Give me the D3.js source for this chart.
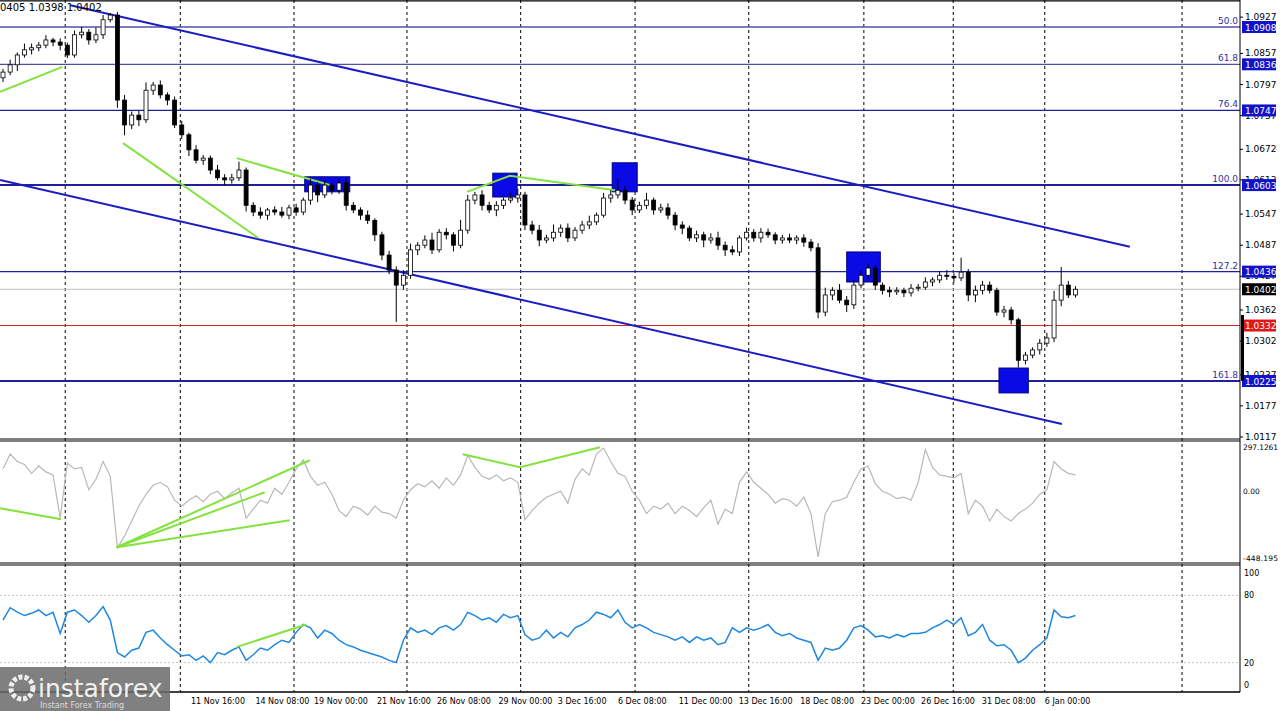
<!DOCTYPE html>
<html>
<head>
<meta charset="utf-8">
<script src="https://cdn.jsdelivr.net/npm/d3@7"></script>
<style>
  body { margin: 0; background: #fff; }
  text { font-family: Tahoma, "DejaVu Sans", sans-serif; }
</style>
</head>
<body>
<svg id="chart" width="1280" height="711"></svg>
<script>
// EURUSD H4 closes (first open 1.0810)
var closes = [
  1.0821, 1.0835, 1.0854, 1.0864, 1.0868, 1.0873, 1.0883, 1.0879, 1.0873, 1.0854,
  1.0893, 1.0898, 1.0883, 1.0893, 1.0922, 1.0931, 1.0767, 1.0719, 1.0738, 1.0729,
  1.0786, 1.0796, 1.0777, 1.0767, 1.0719, 1.0700, 1.0671, 1.0651, 1.0655, 1.0632,
  1.0617, 1.0613, 1.0617, 1.0632, 1.0564, 1.0551, 1.0545, 1.0555, 1.0551, 1.0545,
  1.0559, 1.0551, 1.0574, 1.0603, 1.0584, 1.0603, 1.0593, 1.0607, 1.0564, 1.0555,
  1.0545, 1.0535, 1.0507, 1.0468, 1.0439, 1.0410, 1.0429, 1.0478, 1.0487, 1.0497,
  1.0478, 1.0512, 1.0507, 1.0487, 1.0516, 1.0574, 1.0584, 1.0564, 1.0555, 1.0564,
  1.0574, 1.0578, 1.0584, 1.0526, 1.0516, 1.0497, 1.0501, 1.0512, 1.0520, 1.0501,
  1.0516, 1.0526, 1.0532, 1.0545, 1.0578, 1.0584, 1.0593, 1.0574, 1.0555, 1.0564,
  1.0574, 1.0555, 1.0559, 1.0545, 1.0526, 1.0520, 1.0501, 1.0507, 1.0497, 1.0501,
  1.0487, 1.0478, 1.0474, 1.0501, 1.0512, 1.0501, 1.0512, 1.0507, 1.0497, 1.0501,
  1.0497, 1.0501, 1.0493, 1.0482, 1.0358, 1.0391, 1.0400, 1.0381, 1.0372, 1.0410,
  1.0429, 1.0443, 1.0410, 1.0400, 1.0397, 1.0400, 1.0395, 1.0404, 1.0406, 1.0416,
  1.0420, 1.0429, 1.0427, 1.0424, 1.0435, 1.0391, 1.0400, 1.0410, 1.0400, 1.0358,
  1.0362, 1.0343, 1.0265, 1.0275, 1.0285, 1.0298, 1.0308, 1.0381, 1.0410, 1.0391,
  1.0402
];
var firstOpen = 1.0810;
// wick lengths in pips
var wickUp = [
  6, 10, 5, 12, 8, 6, 9, 4, 7, 5,  8, 10, 6, 14, 9, 4, 6, 10, 7, 8,
  15, 6, 9, 5, 7, 8, 4, 9, 6, 5,  10, 7, 8, 16, 5, 6, 9, 4, 7, 10,
  6, 8, 5, 12, 6, 9, 5, 7, 8, 6,  5, 9, 4, 6, 8, 7, 10, 12, 6, 9,
  14, 6, 8, 5, 20, 10, 6, 9, 7, 8,  5, 9, 12, 6, 8, 10, 6, 15, 7, 9,
  6, 8, 12, 5, 10, 9, 22, 8, 6, 7,  14, 5, 8, 9, 6, 7, 5, 8, 6, 9,
  12, 7, 8, 5, 9, 6, 8, 7, 5, 6,  8, 5, 7, 6, 9, 14, 6, 12, 8, 10,
  9, 8, 6, 5, 7, 6, 5, 8, 6, 9,  5, 8, 10, 6, 28, 6, 9, 8, 7, 5,
  8, 6, 4, 6, 5, 8, 10, 18, 35, 8,  6
];
var wickDn = [
  8, 6, 12, 5, 9, 7, 6, 8, 10, 6,  5, 7, 9, 6, 8, 5, 15, 20, 8, 12,
  6, 9, 7, 10, 6, 8, 12, 6, 9, 8,  5, 10, 7, 6, 12, 8, 7, 9, 6, 5,
  8, 7, 6, 9, 14, 6, 8, 7, 10, 6,  9, 7, 12, 10, 8, 71, 9, 7, 10, 6,
  8, 5, 9, 12, 6, 7, 8, 10, 6, 12,  7, 6, 9, 10, 8, 12, 6, 7, 9, 8,
  6, 7, 8, 6, 5, 9, 7, 8, 10, 6,  7, 9, 6, 8, 10, 12, 6, 8, 14, 7,
  9, 12, 6, 8, 5, 7, 9, 6, 8, 7,  6, 8, 9, 7, 12, 8, 10, 6, 14, 8,
  6, 7, 9, 8, 10, 6, 8, 7, 6, 5,  8, 6, 7, 9, 6, 12, 14, 8, 6, 7,
  10, 9, 14, 8, 6, 9, 7, 8, 12, 6,  5
];
var cci = [
  150, 250, 200, 180, 120, 170, 130, 110, -180, 190, 150, 160, 10, 80, 200, 100, -380, -300, -200, -100,
  -20, 40, 60, 30, -60, -100, -60, -30, -70, -20, 0, -50, -10, 20, -180, -120, -60, -80, 20, -20,
  60, 150, 210, 100, 40, 60, -20, -130, -170, -100, -120, -160, -100, -140, -150, -180, -60, 10, 50, 30,
  70, 20, 90, 40, 110, 240, 160, 100, 80, 110, 70, 90, 60, -190, -130, -80, -40, -20, 0, -80,
  80, 150, 110, 250, 290, 200, 120, 100, 0, -60, -150, -100, -120, -80, -150, -100, -130, -170, -110, -60,
  -220, -120, -150, 60, 130, 60, 20, -20, -80, -50, -60, -100, -40, -150, -440, -150, -70, -60, -40, 60,
  150, 170, 50, 0, -20, -50, -40, -60, 60, 280, 160, 110, 100, 90, 120, -150, -60, -100, -200, -120,
  -170, -200, -150, -120, -80, -20, 10, 200, 150, 120, 110
];
var rsi = [
  58, 69, 65, 62, 64, 67, 62, 65, 46, 65, 67, 62, 56, 62, 70, 58, 29, 25, 31, 33,
  47, 49, 42, 36, 31, 26, 27, 22, 26, 20, 29, 27, 31, 34, 22, 27, 33, 31, 36, 40,
  38, 47, 54, 51, 42, 49, 46, 40, 36, 34, 31, 29, 27, 25, 22, 20, 40, 51, 47, 49,
  45, 51, 53, 49, 54, 65, 62, 58, 60, 56, 63, 60, 62, 45, 40, 42, 49, 42, 47, 43,
  51, 54, 58, 65, 63, 60, 67, 56, 51, 54, 51, 47, 45, 43, 40, 43, 38, 43, 40, 42,
  36, 38, 51, 47, 51, 49, 51, 54, 47, 44, 46, 42, 40, 38, 22, 33, 31, 33, 40, 51,
  53, 49, 43, 44, 42, 45, 43, 46, 46, 47, 51, 54, 58, 54, 60, 44, 47, 54, 40, 35,
  36, 31, 20, 24, 31, 36, 42, 67, 61, 60, 62
];

var priceTicks = [1.0927, 1.0857, 1.0797, 1.0737, 1.0672, 1.0613, 1.0547, 1.0487, 1.0427, 1.0362, 1.0302, 1.0237, 1.0177, 1.0117];
var fiboLevels = [50.0, 61.8, 76.4, 100.0, 127.2, 161.8];
var fiboPrices = [1.0908, 1.0836, 1.0747, 1.0603, 1.0436, 1.0225];
var bidPrice = 1.0402;
var alertPrice = 1.0332;
var headerText = '0405 1.0398 1.0402';

// vertical grid lines and time labels (candle index)
var gridIdx = [8.7, 24.8, 40.7, 56.5, 72.4, 88.4, 104.3, 120.4, 132.9, 145.7, 164.9];
var timeLabels = ['11 Nov 16:00', '14 Nov 08:00', '19 Nov 00:00', '21 Nov 16:00', '26 Nov 08:00', '29 Nov 00:00', '3 Dec 16:00', '6 Dec 08:00', '11 Dec 00:00', '13 Dec 16:00', '18 Dec 08:00', '23 Dec 00:00', '26 Dec 16:00', '31 Dec 08:00', '6 Jan 00:00'];
var timeLabelIdx = [26.3, 35.3, 43.5, 52.3, 60.7, 69.3, 77.6, 86.0, 94.5, 102.9, 111.5, 120.0, 128.4, 136.9, 145.7];

// annotations: [idx, value] pairs
var channelUpper = [[9.4, 1.0950], [157.6, 1.0484]];
var channelLower = [[-0.4, 1.0613], [148.1, 1.0142]];
var priceDivs = [
  [[-0.4, 1.0783], [8.3, 1.0831]],
  [[16.8, 1.0684], [35.7, 1.0501]],
  [[32.7, 1.0655], [45.7, 1.0603]],
  [[64.9, 1.0590], [70.9, 1.0621], [85.6, 1.0593]]
];
var boxes = [
  [42.2, 48.5, 1.0619, 1.0590],
  [68.5, 71.9, 1.0626, 1.0580],
  [85.2, 88.7, 1.0646, 1.0590],
  [118.0, 122.7, 1.0474, 1.0416],
  [139.3, 143.4, 1.0250, 1.0202]
];
var cciDivs = [
  [[-0.4, -114], [8.1, -188]],
  [[15.9, -376], [42.9, 208]],
  [[15.9, -376], [36.6, -7]],
  [[15.9, -376], [40.1, -195]],
  [[64.3, 248], [72.3, 161], [83.5, 295]]
];
var rsiDivs = [[[32.7, 34], [42.4, 54]]];

var svg = d3.select('#chart');
var plotRight = 1240;
var green = '#84e23e', chanBlue = '#1c1cc4', fiboBlue = '#202098';

var x = d3.scaleLinear().domain([0, 150]).range([3, 1075.5]);
var y = d3.scaleLinear().domain([1.0908, 1.0225]).range([27, 381]);
var yC = d3.scaleLinear().domain([297.1261, -448.195]).range([447, 558]);
var yR = d3.scaleLinear().domain([100, 0]).range([573, 685]);

var defs = svg.append('defs');
defs.append('clipPath').attr('id', 'cMain').append('rect').attr('x', 0).attr('y', 0).attr('width', plotRight).attr('height', 438);
defs.append('clipPath').attr('id', 'cCci').append('rect').attr('x', 0).attr('y', 442).attr('width', plotRight).attr('height', 120);
defs.append('clipPath').attr('id', 'cRsi').append('rect').attr('x', 0).attr('y', 566).attr('width', plotRight).attr('height', 126);

// vertical dashed grid
svg.append('g').selectAll('line').data(gridIdx).join('line')
  .attr('x1', d => x(d)).attr('x2', d => x(d)).attr('y1', 0).attr('y2', 692)
  .attr('stroke', '#000').attr('stroke-width', 1).attr('stroke-dasharray', '3,3');

// ---- main panel
var main = svg.append('g').attr('clip-path', 'url(#cMain)');

main.selectAll('line.fibo').data(fiboPrices).join('line')
  .attr('x1', 0).attr('x2', plotRight).attr('y1', d => y(d)).attr('y2', d => y(d))
  .attr('stroke', (d, i) => i < 2 ? '#5050a8' : fiboBlue).attr('stroke-width', (d, i) => (i === 3 || i === 5) ? 2 : 1.3);
main.append('line').attr('x1', 0).attr('x2', plotRight).attr('y1', y(bidPrice)).attr('y2', y(bidPrice)).attr('stroke', '#c0c0c0');
main.append('line').attr('x1', 0).attr('x2', plotRight).attr('y1', y(alertPrice)).attr('y2', y(alertPrice)).attr('stroke', '#d02020');

main.selectAll('text.fibo').data(fiboLevels).join('text')
  .attr('x', 1238).attr('y', (d, i) => y(fiboPrices[i]) - 3).attr('text-anchor', 'end')
  .attr('font-size', 9).attr('fill', '#3030a0').text(d => d.toFixed(1));

var line = d3.line().x(d => x(d[0]));
main.selectAll('path.chan').data([channelUpper, channelLower]).join('path')
  .attr('d', line.y(d => y(d[1]))).attr('fill', 'none').attr('stroke', chanBlue).attr('stroke-width', 2);

main.selectAll('rect.box').data(boxes).join('rect')
  .attr('x', d => x(d[0])).attr('width', d => x(d[1]) - x(d[0]))
  .attr('y', d => y(d[2])).attr('height', d => y(d[3]) - y(d[2]))
  .attr('fill', '#0a0ae6').attr('stroke', '#000080');

main.selectAll('path.div').data(priceDivs).join('path')
  .attr('d', d3.line().x(d => x(d[0])).y(d => y(d[1]))).attr('fill', 'none').attr('stroke', green).attr('stroke-width', 2);

// candles
var candles = closes.map(function(c, i) {
  var o = i === 0 ? firstOpen : closes[i - 1];
  return { i: i, o: o, c: c, h: Math.max(o, c) + wickUp[i] / 10000, l: Math.min(o, c) - wickDn[i] / 10000 };
});
var cg = main.append('g');
cg.selectAll('line').data(candles).join('line')
  .attr('x1', d => x(d.i)).attr('x2', d => x(d.i)).attr('y1', d => y(d.h)).attr('y2', d => y(d.l))
  .attr('stroke', '#000');
cg.selectAll('rect').data(candles).join('rect')
  .attr('x', d => x(d.i) - 2).attr('width', 4)
  .attr('y', d => y(Math.max(d.o, d.c))).attr('height', d => Math.max(1, Math.abs(y(d.o) - y(d.c))))
  .attr('fill', d => d.c >= d.o ? '#fff' : '#000').attr('stroke', '#000').attr('stroke-width', 0.8);

svg.append('text').attr('x', 0).attr('y', 11).attr('font-size', 10).attr('fill', '#000').text(headerText);

// ---- CCI panel
var cciG = svg.append('g').attr('clip-path', 'url(#cCci)');
cciG.append('path').datum(cci).attr('d', d3.line().x((d, i) => x(i)).y(d => yC(d)))
  .attr('fill', 'none').attr('stroke', '#b8b8b8').attr('stroke-width', 1.2);
cciG.selectAll('path.div').data(cciDivs).join('path')
  .attr('d', d3.line().x(d => x(d[0])).y(d => yC(d[1]))).attr('fill', 'none').attr('stroke', green).attr('stroke-width', 2);

// ---- RSI panel
var rsiG = svg.append('g').attr('clip-path', 'url(#cRsi)');
rsiG.selectAll('line.lvl').data([80, 20]).join('line')
  .attr('x1', 0).attr('x2', plotRight).attr('y1', d => yR(d)).attr('y2', d => yR(d))
  .attr('stroke', '#c8c8c8').attr('stroke-dasharray', '2,2');
rsiG.append('path').datum(rsi).attr('d', d3.line().x((d, i) => x(i)).y(d => yR(d)))
  .attr('fill', 'none').attr('stroke', '#1e88e0').attr('stroke-width', 1.5);
rsiG.selectAll('path.div').data(rsiDivs).join('path')
  .attr('d', d3.line().x(d => x(d[0])).y(d => yR(d[1]))).attr('fill', 'none').attr('stroke', green).attr('stroke-width', 2);

// ---- frames
svg.append('line').attr('x1', plotRight).attr('x2', plotRight).attr('y1', 0).attr('y2', 692).attr('stroke', '#000');
[[0, 1], [439, 441], [563, 565], [692, 692]].forEach(function(p) {
  p.forEach(function(v) {
    svg.append('line').attr('x1', 0).attr('x2', plotRight).attr('y1', v).attr('y2', v).attr('stroke', '#000');
  });
});

// ---- right axis
var ax = svg.append('g').attr('font-size', 9);
ax.selectAll('line').data(priceTicks).join('line')
  .attr('x1', plotRight).attr('x2', plotRight + 3).attr('y1', d => y(d)).attr('y2', d => y(d)).attr('stroke', '#000');
ax.selectAll('text').data(priceTicks).join('text')
  .attr('x', 1245).attr('y', d => y(d) + 3).attr('fill', '#000').text(d => d.toFixed(4));
function tag(val, bg) {
  ax.append('rect').attr('x', 1242).attr('y', y(val) - 6).attr('width', 34).attr('height', 12).attr('fill', bg);
  ax.append('text').attr('x', 1245).attr('y', y(val) + 3.5).attr('fill', '#fff').text(val.toFixed(4));
}
fiboPrices.forEach(p => tag(p, '#1212c8'));
tag(bidPrice, '#000');
tag(alertPrice, '#e01818');
ax.append('rect').attr('x', 1241).attr('y', 315).attr('width', 3).attr('height', 66).attr('fill', '#000');

[[297.1261, '297.1261'], [0, '0.00'], [-448.195, '-448.195']].forEach(function(t) {
  ax.append('text').attr('x', 1243).attr('y', yC(t[0]) + 3).attr('fill', '#000').attr('font-size', 7.5)
    .attr('textLength', t[1].length > 5 ? 35 : null).text(t[1]);
});
[100, 80, 20, 0].forEach(function(v) {
  ax.append('text').attr('x', 1244).attr('y', yR(v) + 3).attr('fill', '#000').attr('font-size', 8).text(v);
});

// ---- time axis
svg.append('g').selectAll('text').data(timeLabels).join('text')
  .attr('x', (d, i) => x(timeLabelIdx[i])).attr('y', 704).attr('font-size', 8).attr('fill', '#000').text(d => d);

// ---- logo
var logo = svg.append('g');
logo.append('rect').attr('x', 0).attr('y', 667).attr('width', 170).attr('height', 44).attr('fill', '#6a6a6a').attr('opacity', 0.85);
logo.append('circle').attr('cx', 22).attr('cy', 688).attr('r', 11).attr('fill', 'none').attr('stroke', '#eee').attr('stroke-width', 5).attr('stroke-dasharray', '4,2');
logo.append('text').attr('x', 38).attr('y', 697).attr('font-size', 25).attr('fill', '#f2f2f2').attr('font-family', 'Arial, sans-serif').text('instaforex');
logo.append('text').attr('x', 40).attr('y', 708).attr('font-size', 8).attr('fill', '#ddd').text('Instant Forex Trading');
</script>
</body>
</html>
